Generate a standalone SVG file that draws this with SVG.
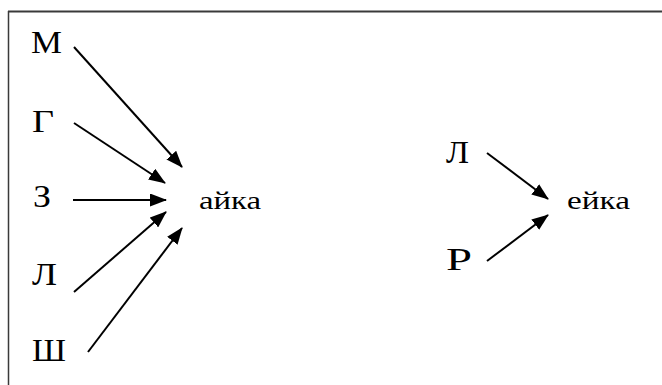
<svg xmlns="http://www.w3.org/2000/svg" width="662" height="385" viewBox="0 0 662 385">
<style>
.cap{font-family:"Liberation Serif","Times New Roman",serif;font-size:31px;fill:#000;}
.low{font-family:"Liberation Serif","Times New Roman",serif;font-size:26px;fill:#000;}
.edge{stroke:#000;stroke-width:2;fill:none;}
</style>
<defs>
<marker id="ah" markerUnits="userSpaceOnUse" markerWidth="17" markerHeight="13" viewBox="0 0 17 13" refX="16" refY="6.5" orient="auto">
<path d="M0,0 L17,6.5 L0,13 Z" fill="#000"/>
</marker>
</defs>
<rect width="662" height="385" fill="#fff"/>
<g id="frame">
<line x1="8" y1="11.5" x2="662" y2="11.5" stroke="#3a3a3a" stroke-width="2"/>
<line x1="8.5" y1="11" x2="8.5" y2="385" stroke="#3a3a3a" stroke-width="1.5"/>
</g>
<g id="n-M"><text class="cap" x="31" y="53" textLength="31" lengthAdjust="spacingAndGlyphs">М</text></g>
<g id="n-G"><text class="cap" x="32" y="132" textLength="22" lengthAdjust="spacingAndGlyphs">Г</text></g>
<g id="n-Z"><text class="cap" x="33" y="207" textLength="18" lengthAdjust="spacingAndGlyphs">З</text></g>
<g id="n-L"><text class="cap" x="32" y="285" textLength="25" lengthAdjust="spacingAndGlyphs">Л</text></g>
<g id="n-Sh"><text class="cap" x="32" y="361" textLength="34" lengthAdjust="spacingAndGlyphs">Ш</text></g>
<g id="n-ayka"><text class="low" x="199" y="209" textLength="62" lengthAdjust="spacingAndGlyphs">айка</text></g>
<g id="n-L2"><text class="cap" x="446" y="163" textLength="23" lengthAdjust="spacingAndGlyphs">Л</text></g>
<g id="n-R"><text class="cap" x="446" y="270" textLength="26" lengthAdjust="spacingAndGlyphs">Р</text></g>
<g id="n-eyka"><text class="low" x="567" y="209" textLength="63" lengthAdjust="spacingAndGlyphs">ейка</text></g>
<g id="connectors">
<line class="edge" x1="74" y1="47" x2="182" y2="167" marker-end="url(#ah)"/>
<line class="edge" x1="74" y1="123" x2="165" y2="183" marker-end="url(#ah)"/>
<line class="edge" x1="73" y1="200" x2="166" y2="200" marker-end="url(#ah)"/>
<line class="edge" x1="74" y1="292" x2="166" y2="212" marker-end="url(#ah)"/>
<line class="edge" x1="88" y1="352" x2="182" y2="228" marker-end="url(#ah)"/>
<line class="edge" x1="487" y1="153" x2="548" y2="199" marker-end="url(#ah)"/>
<line class="edge" x1="487" y1="261" x2="548" y2="215" marker-end="url(#ah)"/>
</g>
</svg>
